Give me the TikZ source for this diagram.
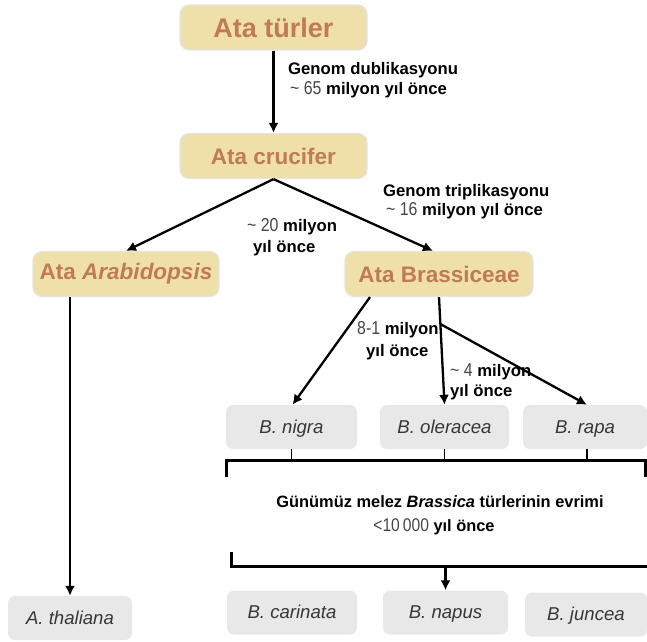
\documentclass[tikz,border=0pt]{standalone}
\usepackage{fontspec}
\setmainfont{Liberation Sans}
\newfontfamily\narrowfont[FakeStretch=0.85,Scale=1.12]{Liberation Sans}
\usetikzlibrary{arrows.meta,calc}
\definecolor{hdrfill}{RGB}{238,224,168}
\definecolor{hdrtext}{RGB}{192,122,88}
\definecolor{spfill}{RGB}{232,232,232}
\definecolor{sptext}{RGB}{55,55,55}
\definecolor{numgray}{RGB}{70,70,70}
\newcommand{\nm}[1]{{\narrowfont\mdseries\color{numgray}#1}}
\begin{document}
\begin{tikzpicture}[x=1pt,y=-1pt,
  hdr/.style={rounded corners=9pt, fill=hdrfill, draw=black!10, line width=1.2pt,
    minimum width=#1, minimum height=45pt, text=hdrtext,
    font=\fontsize{22.5}{26}\selectfont\bfseries, inner sep=0pt},
  sp/.style={rounded corners=7pt, fill=spfill, minimum width=#1, minimum height=44pt,
    text=sptext, font=\itshape\fontsize{18.6}{22}\selectfont, inner sep=0pt,
    text height=13.3pt, text depth=1pt},
  lbl/.style={font=\fontsize{16.7}{19}\selectfont\bfseries, inner sep=0pt, anchor=west},
  ctr/.style={font=\fontsize{16.4}{19}\selectfont\bfseries, inner sep=0pt},
  arr/.style={line width=2.3pt, -{Latex[length=10pt,width=10pt]}},
  brk/.style={line width=3pt},
  tick/.style={line width=1.8pt}]
\useasboundingbox (0,0) rectangle (647,641);

% header nodes
\node[hdr=187pt, font=\fontsize{27}{30}\selectfont\bfseries] (tur) at (273.5,27.5) {Ata türler};
\node[hdr=187pt] (cru) at (273.5,156) {Ata crucifer};
\node[hdr=186pt] (ara) at (126,274) {Ata \textit{Arabidopsis}};
\node[hdr=188pt] (bra) at (439,274) {Ata Brassiceae};

% species nodes
\node[sp=124pt] (tha) at (70,618) {A. thaliana};
\node[sp=131pt] (nig) at (291.5,427) {B. nigra};
\node[sp=129pt] (ole) at (444.5,427) {B. oleracea};
\node[sp=124pt] (rap) at (585,427) {B. rapa};
\node[sp=130pt] (car) at (292,612.5) {B. carinata};
\node[sp=125pt] (nap) at (445.5,612.5) {B. napus};
\node[sp=122pt] (jun) at (586,614.5) {B. juncea};

% labels
\node[lbl] (l1a) at (288,70) {Genom dublikasyonu};
\node[lbl] (l1b) at (290,90) {\nm{\textasciitilde\ 65} milyon yıl önce};
\node[lbl] (l2a) at (383,192) {Genom triplikasyonu};
\node[lbl] (l2b) at (386,211) {\nm{\textasciitilde\ 16} milyon yıl önce};
\node[lbl] (l3a) at (247,227) {\nm{\textasciitilde\ 20} milyon};
\node[lbl] (l3b) at (253,248) {yıl önce};
\node[lbl] (l4a) at (357,330) {\nm{8-1} milyon};
\node[lbl] (l4b) at (366,352) {yıl önce};
\node[lbl] (l5a) at (450,372) {\nm{\textasciitilde\ 4} milyon};
\node[lbl] (l5b) at (450,392) {yıl önce};
\node[ctr] (ev1) at (440,502) {Günümüz melez \textit{Brassica} türlerinin evrimi};
\node[ctr] (ev2) at (434,527) {\nm{<10\,000} yıl önce};

% connectors
\draw[arr] (tur.south) -- (cru.north);
\draw[arr] (cru.south) -- (ara.north);
\draw[arr] (cru.south) -- ($(bra.north)+(-6,0)$);
\draw[arr] (tha.north |- ara.south) -- (tha.north);
\draw[arr] ($(bra.south)+(-69,0)$) -- ($(nig.north)+(1,0)$);
\draw[arr] (bra.south) -- (ole.north);
\coordinate (br) at ($(bra.south)!0.25!(ole.north)$);
\draw[arr] (br) -- ($(rap.north)+(2,0)$);

% brackets
\coordinate (tbl) at (226,477);
\coordinate (tblc) at (226,460);
\coordinate (tbrc) at (645.5,460);
\coordinate (tbr) at (645.5,477);
\draw[brk] (tbl) -- (tblc) -- (tbrc) -- (tbr);
\draw[tick] (nig.south) -- (nig.south |- tblc);
\draw[tick] (ole.south) -- (ole.south |- tblc);
\draw[tick] ($(rap.south)+(2,0)$) -- ($(rap.south |- tblc)+(2,0)$);

\coordinate (bbl) at (231,552);
\coordinate (bbc) at (231,566);
\coordinate (bbr) at (647,566);
\draw[brk] (bbl) -- (bbc) -- (bbr);
\draw[arr] (nap.north |- bbc) -- (nap.north);
\end{tikzpicture}
\end{document}
